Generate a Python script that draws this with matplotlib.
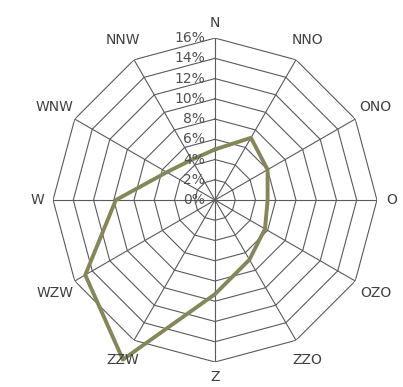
import matplotlib
matplotlib.use('Agg')
import matplotlib.pyplot as plt
import matplotlib.transforms as mtransforms
import numpy as np

directions = ['N', 'NNO', 'ONO', 'O', 'OZO', 'ZZO', 'Z', 'ZZW', 'WZW', 'W', 'WNW', 'NNW']
freq = [5.0, 7.1, 6.0, 5.2, 5.7, 6.8, 9.3, 18.2, 14.8, 9.8, 5.5, 4.6]
levels = [0, 2, 4, 6, 8, 10, 12, 14, 16]
level_labels = ['0%', '2%', '4%', '6%', '8%', '10%', '12%', '14%', '16%']

fig = plt.figure(figsize=(4.03, 3.87), dpi=100)
ax = fig.add_axes([0.1315, 0.0646, 0.804, 0.837], projection='polar')
ax.set_theta_zero_location('N')
ax.set_theta_direction(-1)

angles = np.linspace(0, 2 * np.pi, len(directions), endpoint=False)
closed = np.append(angles, angles[0])

ax.set_ylim(0, 16)
ax.set_yticks([])
ax.set_xticks([])
ax.grid(False)
ax.spines['polar'].set_visible(False)
ax.set_facecolor('none')

# polygon grid
for lv in levels[1:]:
    ax.plot(closed, [lv] * len(closed), color='#5a5a5a', lw=0.8, zorder=1)
# spokes
for a in angles:
    ax.plot([a, a], [0, 16], color='#5a5a5a', lw=0.8, zorder=1)

# data
vals = np.append(freq, freq[0])
ax.plot(closed, vals, color='#85875a', lw=2.8, zorder=3, clip_on=False)

# level labels left of N spoke
off = mtransforms.offset_copy(ax.transData, fig=fig, x=-10, y=0, units='dots')
for lv, lab in zip(levels, level_labels):
    ax.text(0, lv, lab, transform=off, ha='right', va='center',
            fontsize=10, color='#505050', zorder=4)

# direction labels
for a, d in zip(angles, directions):
    r = 17.5 if len(d) < 3 else 18.3
    ax.text(a, r, d, ha='center', va='center', fontsize=10,
            color='#404040', clip_on=False)

fig.savefig('out.png', dpi=100)
